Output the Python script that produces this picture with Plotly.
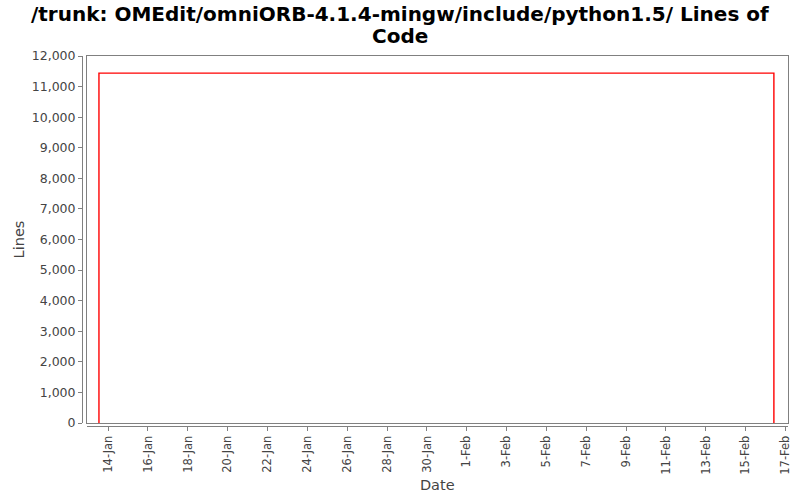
import plotly.graph_objects as go

# Data
dates = ["2011-01-13 13:00", "2011-02-16 10:00"]
lines = [11440, 11440]

x_range = ["2011-01-12 22:00", "2011-02-17 03:00"]
y_ticks = list(range(0, 12001, 1000))

title_lines = ["/trunk: OMEdit/omniORB-4.1.4-mingw/include/python1.5/ Lines of", "Code"]

# step trace: rises from 0 at first date, falls to 0 at last date
xs = [dates[0]] + dates + [dates[-1]]
ys = [0] + lines + [0]

fig = go.Figure()
fig.add_trace(go.Scatter(x=xs, y=ys, mode="lines",
                         line=dict(color="#ff0000", width=1.4),
                         hoverinfo="skip", showlegend=False))

W, H = 800, 500
ml, mr, mt, mb = 82, 12, 56, 74
pw = W - ml - mr
ph = H - mt - mb
xdom0 = 4.5 / pw
ydom0 = 3.0 / ph

font_family = "DejaVu Sans"
gray = "#808080"
txt = "#444444"


def py(pixel_y):
    return (H - mb - pixel_y) / ph


def px(pixel_x):
    return (pixel_x - ml) / pw


fig.update_layout(
    width=W, height=H,
    margin=dict(l=ml, r=mr, t=mt, b=mb, pad=0, autoexpand=False),
    paper_bgcolor="white", plot_bgcolor="white",
    font=dict(family=font_family, size=12, color=txt),
    xaxis=dict(domain=[xdom0, 1], type="date", range=x_range, automargin=False,
               showline=True, mirror=True, linecolor=gray, linewidth=1,
               showgrid=False, zeroline=False, ticks="", showticklabels=False),
    yaxis=dict(domain=[ydom0, 1], range=[0, 12000], automargin=False,
               showline=True, mirror=True, linecolor=gray, linewidth=1,
               showgrid=False, zeroline=False, ticks="", showticklabels=False),
    xaxis2=dict(overlaying="x", anchor="free", position=0, domain=[xdom0, 1],
                type="date", range=x_range, automargin=False,
                tick0="2011-01-14", dtick=2 * 86400000, tickformat="%-d-%b",
                tickangle=-90, ticks="outside", ticklen=4, tickcolor=gray,
                showline=True, linecolor=gray, linewidth=1, showgrid=False,
                zeroline=False, tickfont=dict(size=11.5, color=txt),
                title=dict(text="Date", font=dict(size=14.5, color=txt), standoff=6)),
    yaxis2=dict(overlaying="y", anchor="free", position=0, domain=[ydom0, 1],
                range=[0, 12000], tickvals=y_ticks, tickformat=",", automargin=False,
                ticks="outside", ticklen=4, tickcolor=gray,
                showline=True, linecolor=gray, linewidth=1, showgrid=False,
                zeroline=False, tickfont=dict(size=12.5, color=txt),
                title=dict(text="Lines", font=dict(size=14.5, color=txt), standoff=2)),
)

for text, yc in zip(title_lines, [14, 36]):
    fig.add_annotation(text="<b>" + text + "</b>", xref="paper", yref="paper",
                       x=px(W / 2), y=py(yc), xanchor="center", yanchor="middle",
                       showarrow=False,
                       font=dict(family=font_family, size=20, color="#000000"))

# invisible trace to activate overlay axes
fig.add_trace(go.Scatter(x=[dates[0]], y=[0], xaxis="x2", yaxis="y2", mode="markers",
                         marker=dict(opacity=0), hoverinfo="skip", showlegend=False))

fig.write_html("out.html", config={"displayModeBar": False},
               post_script="document.body.style.margin='0px';")
